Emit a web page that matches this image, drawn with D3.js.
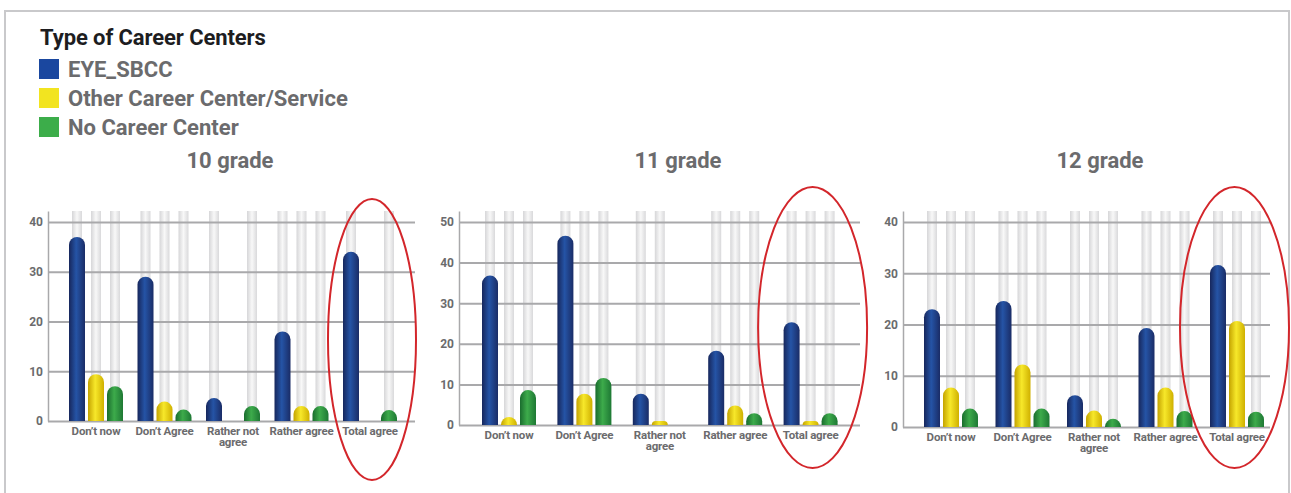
<!DOCTYPE html>
<html>
<head>
<meta charset="utf-8">
<script src="https://cdn.jsdelivr.net/npm/d3@7"></script>
<style>
  html, body { margin: 0; padding: 0; background: #fff; }
  svg { display: block; font-family: Roboto, "Open Sans", sans-serif; }
</style>
</head>
<body>
<svg id="chart" width="1291" height="493"></svg>
<script>
// ---- data ----
const categories = ["Don’t now", "Don’t Agree", "Rather not agree", "Rather agree", "Total agree"];
const seriesNames = ["EYE_SBCC", "Other Career Center/Service", "No Career Center"];
const legendTitle = "Type of Career Centers";
const gradeTitles = ["10 grade", "11 grade", "12 grade"];

const grade10Eye   = [37, 29, 4.6, 18, 34];
const grade10Other = [9.4, 3.9, 0, 3, 0];
const grade10None  = [7, 2.3, 3, 3, 2.2];

const grade11Eye   = [36.8, 46.6, 7.7, 18.3, 25.3];
const grade11Other = [2, 7.7, 1, 4.8, 1];
const grade11None  = [8.6, 11.6, 0, 2.9, 2.9];

const grade12Eye   = [23, 24.6, 6.2, 19.3, 31.6];
const grade12Other = [7.7, 12.2, 3.2, 7.7, 20.7];
const grade12None  = [3.6, 3.6, 1.6, 3.1, 3];

const ticks10 = [0, 10, 20, 30, 40];
const ticks11 = [0, 10, 20, 30, 40, 50];
const ticks12 = [0, 10, 20, 30, 40];

// ---- layout & style ----
const panels = [
  { title: gradeTitles[0], titleX: 230, axisX: 48,  gridR: 415,  y0: 421, top: 211, yMax: 42.2,  bandL: 69,  step: 68.5, ticks: ticks10,
    values: [grade10Eye, grade10Other, grade10None], ring: { dx: 2, cy: 339.5, rx: 44, ry: 140.5 } },
  { title: gradeTitles[1], titleX: 678, axisX: 459, gridR: 860,  y0: 425, top: 211, yMax: 52.7,  bandL: 482, step: 75.4, ticks: ticks11,
    values: [grade11Eye, grade11Other, grade11None], ring: { dx: 2, cy: 327.5, rx: 54.5, ry: 140.5 } },
  { title: gradeTitles[2], titleX: 1100, axisX: 903, gridR: 1270, y0: 427, top: 211, yMax: 42.15, bandL: 924, step: 71.5, ticks: ticks12,
    values: [grade12Eye, grade12Other, grade12None], ring: { dx: -2.5, cy: 327.5, rx: 54.5, ry: 140.5 } }
];

const groupW = 54, barW = 16, trackW = 10;
const swatch = ["#1a479f", "#f2e420", "#3cad4a"];
const shades = [
  ["#17275c", "#2554a6", "#1a2c66"],
  ["#c4a300", "#f7e82a", "#cfb000"],
  ["#1a6c2e", "#3dab4b", "#1e7834"]
];
const grey = "#6b6b6d";

const svg = d3.select("#chart");
const defs = svg.append("defs");

shades.forEach((s, i) => {
  const g = defs.append("linearGradient").attr("id", "bar" + i)
    .attr("x1", 0).attr("x2", 1).attr("y1", 0).attr("y2", 0);
  g.append("stop").attr("offset", 0).attr("stop-color", s[0]);
  g.append("stop").attr("offset", 0.45).attr("stop-color", s[1]);
  g.append("stop").attr("offset", 1).attr("stop-color", s[2]);
});
const tg = defs.append("linearGradient").attr("id", "track")
  .attr("x1", 0).attr("x2", 1).attr("y1", 0).attr("y2", 0);
tg.append("stop").attr("offset", 0).attr("stop-color", "#d6d6d8");
tg.append("stop").attr("offset", 0.5).attr("stop-color", "#f8f8f8");
tg.append("stop").attr("offset", 1).attr("stop-color", "#d9d9db");

// outer frame
svg.append("rect").attr("x", 5).attr("y", 11).attr("width", 1284).attr("height", 520)
  .attr("fill", "none").attr("stroke", "#c9c9cb").attr("stroke-width", 2);

// legend
svg.append("text").attr("x", 40).attr("y", 45)
  .attr("font-size", 22).attr("font-weight", 700).attr("fill", "#1d1d1f")
  .attr("letter-spacing", -0.1).text(legendTitle);
const leg = svg.append("g").selectAll("g").data(seriesNames).join("g")
  .attr("transform", (d, i) => `translate(39,${59 + i * 29})`);
leg.append("rect").attr("width", 20).attr("height", 20).attr("fill", (d, i) => swatch[i]);
leg.append("text").attr("x", 29).attr("y", 18.3)
  .attr("font-size", 22).attr("font-weight", 700).attr("fill", grey)
  .text(d => d);

// rounded-top bar outline
function barPath(x, w, yTop, yBase) {
  const h = yBase - yTop;
  if (h <= 0) return null;
  const r = Math.min(w / 2, h);
  return `M${x},${yBase}V${yTop + r}A${r},${r} 0 0 1 ${x + r},${yTop}` +
         `H${x + w - r}A${r},${r} 0 0 1 ${x + w},${yTop + r}V${yBase}Z`;
}

function wrap(textSel, maxW) {
  textSel.each(function () {
    const t = d3.select(this);
    const words = t.text().split(/\s+/);
    const x = t.attr("x") || 0, dy = parseFloat(t.attr("dy")) || 0;
    t.text(null);
    let line = [];
    let tspan = t.append("tspan").attr("x", x).attr("dy", dy + "em");
    words.forEach(w => {
      line.push(w);
      tspan.text(line.join(" "));
      if (tspan.node().getComputedTextLength() > maxW && line.length > 1) {
        line.pop();
        tspan.text(line.join(" "));
        line = [w];
        tspan = t.append("tspan").attr("x", x).attr("dy", "1.02em").text(w);
      }
    });
  });
}

panels.forEach(p => {
  const g = svg.append("g");
  const y = d3.scaleLinear().domain([0, p.yMax]).range([p.y0, p.top]);
  const x0 = d3.scaleBand().domain(categories)
    .range([p.bandL, p.bandL + 4 * p.step + groupW])
    .paddingInner(1 - groupW / p.step).paddingOuter(0);
  const x1 = d3.scaleBand().domain(d3.range(seriesNames.length))
    .range([0, x0.bandwidth()]).paddingInner(3 / 19).paddingOuter(0);

  const cells = [];
  categories.forEach((c, ci) => {
    p.values.forEach((arr, si) => cells.push({ c, si, v: arr[ci] }));
  });

  // background tracks (only where a value exists)
  g.append("g").selectAll("rect").data(cells.filter(d => d.v > 0)).join("rect")
    .attr("x", d => x0(d.c) + x1(d.si) + (x1.bandwidth() - trackW) / 2)
    .attr("width", trackW)
    .attr("y", p.top).attr("height", p.y0 - p.top)
    .attr("fill", "url(#track)");

  // y axis with full-width gridlines
  const ya = g.append("g").attr("transform", `translate(${p.axisX},0)`)
    .call(d3.axisLeft(y).tickValues(p.ticks).tickSize(-(p.gridR - p.axisX)).tickSizeOuter(0).tickPadding(5));
  ya.select(".domain").attr("stroke", "#a9a9ab").attr("stroke-width", 1.5);
  ya.selectAll(".tick line").attr("stroke", "#a9a9ab").attr("stroke-width", 2);
  ya.selectAll(".tick text").attr("font-size", 12).attr("font-weight", 700)
    .attr("fill", grey).attr("font-family", "Roboto, sans-serif");

  // bars
  g.append("g").selectAll("path").data(cells.filter(d => d.v > 0)).join("path")
    .attr("d", d => {
      const bx = x0(d.c) + x1(d.si);
      return barPath(bx, x1.bandwidth(), y(d.v), p.y0);
    })
    .attr("fill", d => `url(#bar${d.si})`);

  // category labels
  const xa = g.append("g").attr("transform", `translate(0,${p.y0})`)
    .call(d3.axisBottom(x0).tickSize(0).tickPadding(5.5));
  xa.select(".domain").remove();
  xa.selectAll(".tick text").attr("font-size", 11.5).attr("font-weight", 700)
    .attr("fill", grey).attr("font-family", "Roboto, sans-serif")
    .attr("letter-spacing", -0.2)
    .call(wrap, p.step - 2);

  // panel title
  svg.append("text").attr("x", p.titleX).attr("y", 168).attr("text-anchor", "middle")
    .attr("font-size", 22).attr("font-weight", 700).attr("fill", grey).text(p.title);

  // highlight ring around the last category
  const last = categories[categories.length - 1];
  svg.append("ellipse")
    .attr("cx", x0(last) + x0.bandwidth() / 2 + p.ring.dx).attr("cy", p.ring.cy)
    .attr("rx", p.ring.rx).attr("ry", p.ring.ry)
    .attr("fill", "none").attr("stroke", "#d3262b").attr("stroke-width", 2);
});
</script>
</body>
</html>
